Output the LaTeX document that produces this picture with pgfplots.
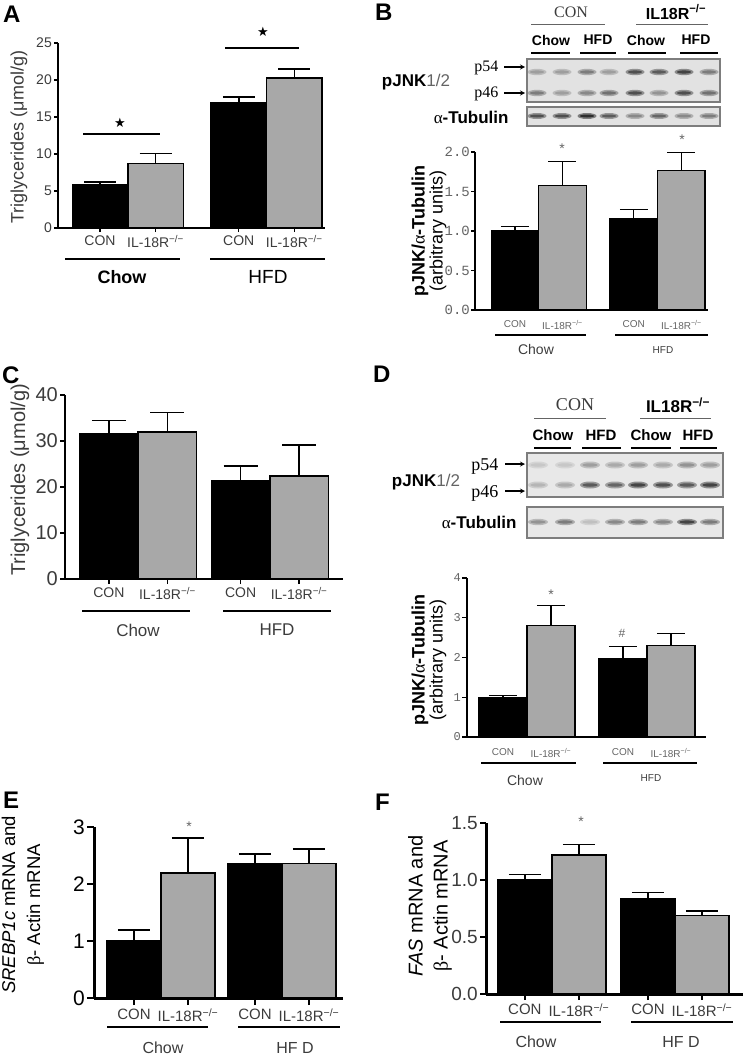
\documentclass[border=0pt]{standalone}
\usepackage{fontspec}
\setmainfont{Liberation Sans}
\newfontfamily\serifface{Liberation Serif}
\newfontfamily\monoface{Liberation Mono}
\newfontfamily\symface{DejaVu Sans}
\usepackage{pgfplots}
\pgfplotsset{compat=1.18}

\definecolor{bargray}{RGB}{168,168,168}
\definecolor{txtgray}{RGB}{60,60,60}
\definecolor{ltgray}{RGB}{100,100,100}
\definecolor{blotbg}{RGB}{226,226,226}
\definecolor{blotedge}{RGB}{125,125,125}

\newcommand{\fs}[1]{\fontsize{#1bp}{#1bp}\selectfont}
\newcommand{\ko}{IL-18R\textsuperscript{−/−}}

% soft blot bands: y, half height, half width, list x/darkness
\newcommand{\bands}[4]{%
  \foreach \bx/\bd in {#4} {
    \fill[black!\bd!blotbg, opacity=0.55] (\bx,#1) ellipse (#3 and #2);
    \fill[black!\bd!blotbg] (\bx,#1) ellipse ({0.75*#3} and {0.5*#2});
  }%
}

\pgfplotsset{
  panel/.style={
    scale only axis, anchor=south west,
    axis x line*=bottom, axis y line*=left,
    ymin=0, enlargelimits=false, clip=false,
    tick align=outside,
    xtick={0,1,2.5,3.5},
    xticklabels={CON,\ko,CON,\ko},
    /pgf/number format/assume math mode=true,
  },
  bars/.style 2 args={ybar, bar shift=0pt, bar width=1, draw=black, line width=#1,
    error bars/y dir=plus, error bars/y explicit,
    error bars/error bar style={line width=#1, black},
    error bars/error mark options={rotate=90, line width=#1, mark size=#2, black}},
  onedec/.style={y tick label style={/pgf/number format/fixed,
    /pgf/number format/fixed zerofill, /pgf/number format/precision=1}},
}

\begin{document}
\begin{tikzpicture}
\useasboundingbox (0bp,0bp) rectangle (747bp,-1056bp);

% ---------------- A
\begin{axis}[panel, at={(58bp,-228bp)}, width=267bp, height=185bp,
  xmin=-0.757, xmax=4.054, ymax=25, ytick={0,5,10,15,20,25},
  axis line style={line width=1.6bp},
  major tick style={line width=1.4bp, black}, major tick length=4bp,
  y tick label style={font=\fs{14}, text=txtgray, inner sep=2bp},
  x tick label style={font=\fs{14}, text=txtgray}]
\addplot[bars={1.5bp}{16bp}, fill=black] coordinates {(0,5.8) +- (0,0.4) (2.5,16.9) +- (0,0.8)};
\addplot[bars={1.5bp}{16bp}, fill=bargray] coordinates {(1,8.75) +- (0,1.35) (3.5,20.3) +- (0,1.2)};
\end{axis}

% ---------------- B
\begin{axis}[panel, onedec, at={(475bp,-310bp)}, width=233bp, height=158bp,
  xmin=-0.84, xmax=4.06, ymax=2, ytick={0,0.5,1,1.5,2},
  axis line style={line width=1.6bp},
  major tick style={line width=1.2bp, black}, major tick length=4bp,
  xtick style={draw=none},
  y tick label style={font=\monoface\fs{14}, text=ltgray, inner sep=1bp},
  x tick label style={font=\fs{10}, text=ltgray, yshift=-3bp}]
\addplot[bars={1.3bp}{14bp}, fill=black] coordinates {(0,1.0) +- (0,0.06) (2.5,1.16) +- (0,0.11)};
\addplot[bars={1.3bp}{14bp}, fill=bargray] coordinates {(1,1.58) +- (0,0.30) (3.5,1.77) +- (0,0.22)};
\end{axis}

% ---------------- C
\begin{axis}[panel, at={(65bp,-579bp)}, width=278bp, height=184bp,
  xmin=-0.75, xmax=4.0, ymax=40, ytick={0,10,20,30,40},
  xtick={0,1,2.25,3.25},
  axis line style={line width=1.6bp},
  major tick style={line width=1.4bp, black}, major tick length=5bp,
  y tick label style={font=\fs{20}, text=txtgray, inner sep=2bp},
  x tick label style={font=\fs{14}, text=txtgray}]
\addplot[bars={1.5bp}{17bp}, fill=black] coordinates {(0,31.6) +- (0,2.9) (2.25,21.45) +- (0,3.15)};
\addplot[bars={1.5bp}{17bp}, fill=bargray] coordinates {(1,32.0) +- (0,4.2) (3.25,22.4) +- (0,6.7)};
\end{axis}

% ---------------- D
\begin{axis}[panel, at={(467bp,-737bp)}, width=239bp, height=159bp,
  xmin=-0.75, xmax=4.23, ymax=4, ytick={0,1,2,3,4},
  axis line style={line width=1.6bp},
  major tick style={line width=1.2bp, black}, major tick length=5bp,
  xtick style={draw=none},
  y tick label style={font=\monoface\fs{12}, text=ltgray, inner sep=1bp},
  x tick label style={font=\fs{10}, text=ltgray, yshift=-3bp}]
\addplot[bars={1.3bp}{14bp}, fill=black] coordinates {(0,1.0) +- (0,0.04) (2.5,1.97) +- (0,0.31)};
\addplot[bars={1.3bp}{14bp}, fill=bargray] coordinates {(1,2.81) +- (0,0.49) (3.5,2.31) +- (0,0.29)};
\end{axis}

% ---------------- E
\begin{axis}[panel, at={(94bp,-998bp)}, width=249bp, height=171bp,
  xmin=-0.74, xmax=3.87, ymax=3, ytick={0,1,2,3},
  xtick={0,1,2.24,3.24},
  axis line style={line width=3bp},
  major tick style={line width=2.4bp, black}, major tick length=7bp,
  y tick label style={font=\fs{21}, text=black, inner sep=2bp},
  x tick label style={font=\fs{15}, text=txtgray}]
\addplot[bars={1.5bp}{16bp}, fill=black] coordinates {(0,1.01) +- (0,0.18) (2.24,2.36) +- (0,0.17)};
\addplot[bars={1.5bp}{16bp}, fill=bargray] coordinates {(1,2.19) +- (0,0.62) (3.24,2.36) +- (0,0.25)};
\end{axis}

% ---------------- F
\begin{axis}[panel, onedec, at={(486bp,-994bp)}, width=257bp, height=171bp,
  xmin=-0.72, xmax=4.04, ymax=1.5, ytick={0,0.5,1,1.5},
  xtick={0,1,2.28,3.28},
  axis line style={line width=3bp},
  major tick style={line width=2.4bp, black}, major tick length=6bp,
  y tick label style={font=\fs{19}, text=txtgray, inner sep=2bp},
  x tick label style={font=\fs{15}, text=txtgray}]
\addplot[bars={1.5bp}{16bp}, fill=black] coordinates {(0,1.0) +- (0,0.05) (2.28,0.84) +- (0,0.05)};
\addplot[bars={1.5bp}{16bp}, fill=bargray] coordinates {(1,1.22) +- (0,0.09) (3.28,0.69) +- (0,0.04)};
\end{axis}

% ---------------- annotations in reference pixels
\begin{scope}[x=1bp, y=-1bp]
% panel letters
\foreach \lx/\ly/\lt in {3/6/A, 375/4/B, 2/367/C, 373/366/D, 3/792/E, 375/794/F}
  \node[anchor=north west, inner sep=0, font=\bfseries\fs{24}] at (\lx,\ly) {\lt};

% A
\node[rotate=90, font=\fs{18}, text=txtgray] at (19,137) {Triglycerides (μmol/g)};
\draw[line width=1.5] (65,259) -- (180,259);
\draw[line width=1.5] (210,259) -- (325,259);
\node[font=\bfseries\fs{18}] at (122,277) {Chow};
\node[font=\fs{19}] at (268,277) {HFD};
\draw[line width=1.6] (83,134) -- (160,134);
\draw[line width=1.6] (225,48) -- (299,48);
\node[font=\symface\fs{13}] at (120,123) {★};
\node[font=\symface\fs{13}] at (263,32) {★};

% B blot
\node[font=\serifface\fs{16}, text=txtgray] at (571,12) {CON};
\node[font=\bfseries\fs{16}] at (676,12) {IL18R\textsuperscript{−/−}};
\draw[ltgray, line width=1] (531,24) -- (605,24);
\draw[ltgray, line width=1] (636,24) -- (708,24);
\foreach \cx/\ct in {551/Chow, 598/HFD, 646/Chow, 696/HFD}
  \node[font=\bfseries\fs{14}] at (\cx,40) {\ct};
\foreach \a/\b in {531/570, 580/616, 628/666, 680/718}
  \draw[line width=2] (\a,53) -- (\b,53);
\fill[blotbg] (527,59) rectangle (720,102);
\fill[blotbg] (527,107) rectangle (720,126);
\bands{72}{3.2}{9.5}{537/30, 562/30, 587/45, 609/30, 635/65, 659/60, 684/70, 709/45}
\bands{93}{3.2}{9.5}{537/45, 562/30, 587/40, 609/50, 635/65, 659/35, 684/65, 709/50}
\bands{116}{3}{9.5}{537/65, 562/65, 587/80, 609/60, 635/40, 659/55, 684/40, 709/45}
\draw[blotedge, line width=1.2] (527,59) rectangle (720,102);
\draw[blotedge, line width=1.2] (527,107) rectangle (720,126);
\node[font=\fs{17}] at (416,82) {\textbf{pJNK}{\color{ltgray}1/2}};
\node[font=\serifface\fs{16}, anchor=east] at (502,68) {p54};
\node[font=\serifface\fs{16}, anchor=east] at (502,94) {p46};
\draw[-stealth, line width=1.2] (504,67) -- (525,67);
\draw[-stealth, line width=1.2] (504,93) -- (525,93);
\node[font=\fs{17}, anchor=east] at (512,117) {{\serifface α}\textbf{-Tubulin}};
% B chart
\node[rotate=90, align=center, font=\fs{18}] at (429,231)
  {\textbf{pJNK/}{\serifface α}\textbf{-Tubulin}\\(arbitrary units)};
\node[font=\fs{14}, text=ltgray] at (562,149) {*};
\node[font=\fs{14}, text=ltgray] at (682,140) {*};
\draw[line width=1.5] (495,335) -- (586,335);
\draw[line width=1.5] (615,335) -- (708,335);
\node[font=\fs{14}, text=txtgray] at (536,349) {Chow};
\node[font=\fs{10}, text=txtgray] at (663,350) {HFD};

% C
\node[rotate=90, font=\fs{20}, text=txtgray] at (20,480) {Triglycerides (μmol/g)};
\draw[line width=1.5] (82,611) -- (190,611);
\draw[line width=1.5] (223,611) -- (331,611);
\node[font=\fs{17}, text=txtgray] at (138,630) {Chow};
\node[font=\fs{17}, text=txtgray] at (277,630) {HFD};

% D blot
\node[font=\serifface\fs{18}, text=txtgray] at (575,405) {CON};
\node[font=\bfseries\fs{17}] at (678,405) {IL18R\textsuperscript{−/−}};
\draw[ltgray, line width=1] (534,418) -- (606,418);
\draw[ltgray, line width=1] (640,418) -- (711,418);
\foreach \cx/\ct in {553/Chow, 601/HFD, 651/Chow, 698/HFD}
  \node[font=\bfseries\fs{15}] at (\cx,435) {\ct};
\foreach \a/\b in {534/571, 582/621, 631/671, 680/717}
  \draw[line width=2] (\a,448) -- (\b,448);
\fill[blotbg!80!white] (527,453) rectangle (723,497);
\fill[blotbg!80!white] (527,507) rectangle (723,538);
\bands{465}{3.5}{10}{538/12, 565/12, 590/30, 615/25, 638/30, 663/25, 687/35, 710/30}
\bands{485}{3.5}{10}{538/20, 565/25, 590/60, 615/55, 638/70, 663/65, 687/60, 710/70}
\bands{522}{3.2}{10}{538/35, 565/45, 590/15, 615/40, 638/45, 663/40, 687/70, 710/45}
\draw[blotedge, line width=1.2] (527,453) rectangle (723,497);
\draw[blotedge, line width=1.2] (527,507) rectangle (723,538);
\node[font=\fs{17}] at (426,482) {\textbf{pJNK}{\color{ltgray}1/2}};
\node[font=\serifface\fs{18}, anchor=east] at (502,466) {p54};
\node[font=\serifface\fs{18}, anchor=east] at (502,493) {p46};
\draw[-stealth, line width=1.2] (505,464) -- (525,464);
\draw[-stealth, line width=1.2] (505,491) -- (525,491);
\node[font=\fs{17}, anchor=east] at (520,522) {{\serifface α}\textbf{-Tubulin}};
% D chart
\node[rotate=90, align=center, font=\fs{18}] at (429,660)
  {\textbf{pJNK/}{\serifface α}\textbf{-Tubulin}\\(arbitrary units)};
\node[font=\fs{14}, text=ltgray] at (551,595) {*};
\node[font=\fs{12}, text=ltgray] at (622,633) {\#};
\draw[line width=1.5] (481,763) -- (576,763);
\draw[line width=1.5] (603,763) -- (697,763);
\node[font=\fs{14}, text=txtgray] at (525,780) {Chow};
\node[font=\fs{10}, text=txtgray] at (651,778) {HFD};

% E
\node[rotate=90, align=center, font=\fontsize{18.5bp}{25bp}\selectfont] at (23,905)
  {\textit{SREBP1c} mRNA and\\{\serifface β}- Actin mRNA};
\node[font=\fs{14}, text=ltgray] at (189,827) {*};
\draw[line width=1.5] (107,1027) -- (208,1027);
\draw[line width=1.5] (238,1027) -- (340,1027);
\node[font=\fs{16}, text=txtgray] at (163,1048) {Chow};
\node[font=\fs{16}, text=txtgray] at (295,1048) {HF D};

% F
\node[rotate=90, align=center, font=\fontsize{20bp}{25bp}\selectfont] at (430,906)
  {\textit{FAS} mRNA and\\{\serifface β}- Actin mRNA};
\node[font=\fs{14}, text=ltgray] at (581,822) {*};
\draw[line width=1.5] (500,1022) -- (601,1022);
\draw[line width=1.5] (631,1022) -- (733,1022);
\node[font=\fs{16}, text=txtgray] at (536,1042) {Chow};
\node[font=\fs{16}, text=txtgray] at (681,1042) {HF D};
\end{scope}
\end{tikzpicture}
\end{document}
